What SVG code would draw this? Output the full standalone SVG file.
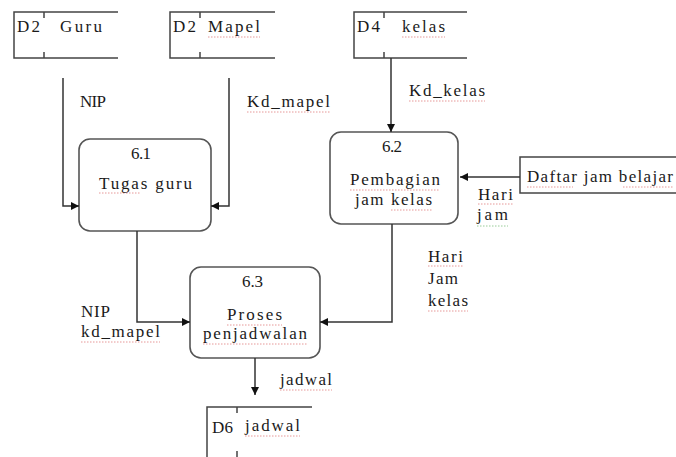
<svg xmlns="http://www.w3.org/2000/svg" width="676" height="457" viewBox="0 0 676 457">
  <style>
    text { font-family: "Liberation Serif", serif; font-size: 17px; fill: #1a1a1a; }
    .edge { fill: none; stroke: #333; stroke-width: 1.5; }
    .proc { fill: #fff; stroke: #555; stroke-width: 1.6; }
    .store { fill: none; stroke: #444; stroke-width: 1.5; }
    .ext { fill: #fff; stroke: #444; stroke-width: 1.5; }
    .sq { fill: none; stroke: #d04040; stroke-width: 0.9; stroke-dasharray: 1.5 1.5; opacity: 0.6; }
    .sqg { fill: none; stroke: #40a040; stroke-width: 0.9; stroke-dasharray: 1.5 1.5; opacity: 0.6; }
  </style>
  <defs>
    <marker id="arrow" viewBox="0 0 10 10" refX="10" refY="5" markerWidth="8" markerHeight="8" markerUnits="userSpaceOnUse" orient="auto">
      <path d="M0,0 L10,5 L0,10 z" fill="#111"/>
    </marker>
  </defs>
  <rect width="676" height="457" fill="#fff"/>

  <!-- Data stores -->
  <g id="store-guru">
    <path class="store" d="M118 12 H14 V58 H118 M44 12 V18 M44 52 V58"/>
    <text x="17" y="32" textLength="23">D2</text>
    <text x="60" y="32" textLength="42">Guru</text>
  </g>
  <g id="store-mapel">
    <path class="store" d="M275 12 H170 V58 H275 M200 12 V18 M200 52 V58"/>
    <text x="173" y="32" textLength="23">D2</text>
    <text x="208" y="32" textLength="52">Mapel</text>
    <path class="sq" d="M208 37 H260"/>
  </g>
  <g id="store-kelas">
    <path class="store" d="M467 12 H354 V58 H467 M384 12 V18 M384 52 V58"/>
    <text x="357" y="32" textLength="23">D4</text>
    <text x="402" y="32" textLength="43">kelas</text>
    <path class="sq" d="M402 37 H445"/>
  </g>
  <g id="store-jadwal">
    <path class="store" d="M312 407 H207 V460 M237 407 V413 M237 451 V460"/>
    <text x="212" y="433" textLength="21">D6</text>
    <text x="245" y="431" textLength="55">jadwal</text>
    <path class="sq" d="M245 436 H300"/>
  </g>

  <!-- External entity -->
  <g id="ext-daftar">
    <rect class="ext" x="520" y="157" width="160" height="36"/>
    <text x="527" y="182" textLength="146">Daftar jam belajar</text>
    <path class="sq" d="M527 187 H573 M623 187 H673"/>
  </g>

  <!-- Processes -->
  <g id="proc-61">
    <rect class="proc" x="79" y="139" width="132" height="92" rx="11"/>
    <text x="131" y="159" textLength="20">6.1</text>
    <text x="99" y="189" textLength="93">Tugas guru</text>
    <path class="sq" d="M99 193 H140"/>
  </g>
  <g id="proc-62">
    <rect class="proc" x="330" y="132" width="128" height="92" rx="11"/>
    <text x="382" y="152" textLength="20">6.2</text>
    <text x="350" y="185" textLength="90">Pembagian</text>
    <text x="355" y="205" textLength="77">jam kelas</text>
    <path class="sq" d="M350 190 H440 M391 210 H432"/>
  </g>
  <g id="proc-63">
    <rect class="proc" x="190" y="267" width="130" height="91" rx="11"/>
    <text x="242" y="287" textLength="21">6.3</text>
    <text x="227" y="320" textLength="55">Proses</text>
    <text x="203" y="339" textLength="104">penjadwalan</text>
    <path class="sq" d="M227 325 H282 M203 344 H307"/>
  </g>

  <!-- Data flows -->
  <g id="connectors">
    <path class="edge" d="M63 78 V206 H79" marker-end="url(#arrow)"/>
    <path class="edge" d="M229 78 V206 H211" marker-end="url(#arrow)"/>
    <path class="edge" d="M391 58 V132" marker-end="url(#arrow)"/>
    <path class="edge" d="M520 177 H460" marker-end="url(#arrow)"/>
    <path class="edge" d="M137 231 V322 H190" marker-end="url(#arrow)"/>
    <path class="edge" d="M392 224 V322 H320" marker-end="url(#arrow)"/>
    <path class="edge" d="M255 358 V395" marker-end="url(#arrow)"/>
  </g>

  <!-- Flow labels -->
  <g id="labels">
    <text x="80" y="107" textLength="26">NIP</text>
    <text x="247" y="107" textLength="83">Kd_mapel</text>
    <path class="sq" d="M247 112 H330"/>
    <text x="409" y="96" textLength="76">Kd_kelas</text>
    <path class="sq" d="M409 101 H485"/>
    <text x="478" y="200" textLength="35">Hari</text>
    <path class="sq" d="M478 204 H513"/>
    <text x="477" y="220" textLength="31">jam</text>
    <path class="sqg" d="M477 226 H508"/>
    <text x="428" y="262" textLength="35">Hari</text>
    <path class="sq" d="M428 266 H463"/>
    <text x="428" y="284" textLength="30">Jam</text>
    <text x="428" y="306" textLength="40">kelas</text>
    <path class="sq" d="M428 311 H468"/>
    <text x="81" y="317" textLength="29">NIP</text>
    <text x="81" y="337" textLength="79">kd_mapel</text>
    <path class="sq" d="M81 342 H160"/>
    <text x="280" y="385" textLength="52">jadwal</text>
    <path class="sq" d="M280 390 H332"/>
  </g>
</svg>
